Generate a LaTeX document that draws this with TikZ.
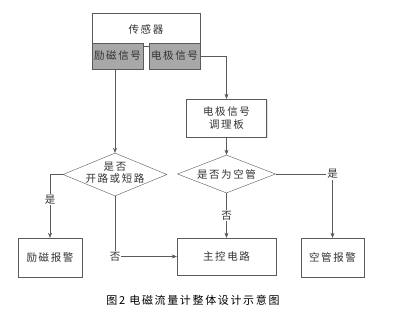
\documentclass[tikz,border=0pt]{standalone}
\usepackage{fontspec}
\setmainfont{Noto Sans CJK SC}[LetterSpace=15]
\usepackage{tikz}
\usetikzlibrary{arrows.meta,shapes.geometric,shadows}

\definecolor{linegray}{HTML}{5A5A5A}
\definecolor{boxgray}{HTML}{A8A8A8}
\definecolor{txtgray}{HTML}{333333}

\tikzset{
  flowbox/.style={draw=linegray,fill=white,inner sep=0pt,font=\fontsize{10.5}{13}\selectfont,text=txtgray,
    drop shadow={shadow xshift=1pt,shadow yshift=-1pt,opacity=0.25}},
  sigbox/.style={flowbox,fill=boxgray,minimum width=51pt,minimum height=26pt},
  decision/.style={diamond,draw=linegray,fill=white,inner sep=0pt},
  flowarrow/.style={draw=linegray,-{Stealth[length=5pt,width=4pt]}},
  yesno/.style={fill=white,inner sep=1pt,font=\fontsize{10.5}{12}\selectfont,text=txtgray}
}

\begin{document}
\begin{tikzpicture}[x=1pt,y=-1pt]
\useasboundingbox (0,0) rectangle (406,309);
% sensor with its two outputs
\node[flowbox,minimum width=108pt,minimum height=33pt] (sensor) at (146,29.5) {传感器};
\node[sigbox] (exc) at (117.5,56) {励磁信号};
\node[sigbox] (elec) at (174.5,56) {电极信号};
% conditioning board
\node[flowbox,minimum width=80pt,minimum height=38pt,align=center] (board) at (226.5,118) {电极信号\\调理板};
% decisions
\node[decision,minimum width=104pt,minimum height=43pt] (open) at (115,174.5) {};
\node[align=center,font=\fontsize{10.5}{12}\selectfont,text=txtgray] (opentxt) at (115,173) {是否\\开路或短路};
\node[decision,minimum width=98pt,minimum height=38pt] (empty) at (226.5,174) {};
\node[font=\fontsize{10.5}{12}\selectfont,text=txtgray] (emptytxt) at (empty) {是否为空管};
% results
\node[flowbox,minimum width=64pt,minimum height=39pt] (excalarm) at (50,257.5) {励磁报警};
\node[flowbox,minimum width=99pt,minimum height=37pt] (main) at (226.5,256.5) {主控电路};
\node[flowbox,minimum width=63pt,minimum height=39pt] (emptyalarm) at (332.5,257.5) {空管报警};
% connectors
\draw[flowarrow] (open.north |- exc.south) -- (open.north);
\draw[flowarrow] (elec.east) -| (board.north);
\draw[flowarrow] (board.south) -- (empty.north);
\draw[flowarrow] (open.west) -| (excalarm.north) node[pos=0.7,yesno] {是};
\draw[flowarrow] (open.south) |- (main.west) node[pos=0.5,yesno] {否};
\draw[flowarrow] (empty.south) -- (main.north) node[midway,yesno] {否};
\draw[flowarrow] (empty.east) -| (emptyalarm.north) node[pos=0.5,yesno] {是};
% caption
\node[font=\fontsize{11}{12}\selectfont] (caption) at (193,300) {图2\ 电磁流量计整体设计示意图};
\end{tikzpicture}
\end{document}
